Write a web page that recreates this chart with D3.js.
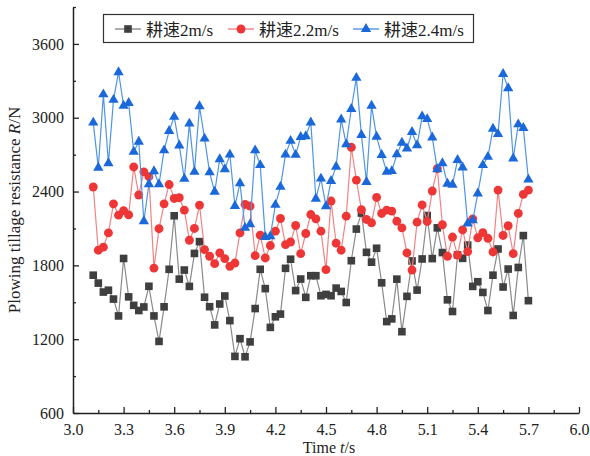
<!DOCTYPE html>
<html>
<head>
<meta charset="utf-8">
<script src="https://cdn.jsdelivr.net/npm/d3@7/dist/d3.min.js"></script>
<style>
  body { margin: 0; background: #fff; }
  svg text { font-family: "Liberation Serif", "Times New Roman", serif; fill: #222; }
  svg .cjk { font-family: "Noto Sans CJK SC", sans-serif; }
</style>
</head>
<body>
<div id="chart"></div>
<script>
// sample times (s)
const times = [3.12,3.15,3.18,3.21,3.24,3.27,3.30,3.33,3.36,3.39,3.42,3.45,3.48,3.51,3.54,3.57,3.60,3.63,3.66,3.69,
  3.72,3.75,3.78,3.81,3.84,3.87,3.90,3.93,3.96,3.99,4.02,4.05,4.08,4.11,4.14,4.17,4.20,4.23,4.26,4.29,
  4.32,4.35,4.38,4.41,4.44,4.47,4.50,4.53,4.56,4.59,4.62,4.65,4.68,4.71,4.74,4.77,4.80,4.83,4.86,4.89,
  4.92,4.95,4.98,5.01,5.04,5.07,5.10,5.13,5.16,5.19,5.22,5.25,5.28,5.31,5.34,5.37,5.40,5.43,5.46,5.49,
  5.52,5.55,5.58,5.61,5.64,5.67,5.70];

// tillage resistance (N)
const speed2 = [1720,1656,1583,1598,1526,1389,1856,1544,1475,1433,1462,1630,1389,1182,1463,1768,2203,1688,1762,1629,
  1897,1993,1541,1464,1316,1486,1551,1351,1060,1204,1057,1178,1449,1768,1611,1296,1382,1404,1776,1850,
  1595,1689,1540,1716,1716,1553,1564,1553,1615,1588,1498,1838,2095,2225,1906,1826,1939,1658,1343,1365,
  1688,1261,1548,1836,1599,1852,2205,1855,2105,1904,1520,1425,1885,1857,1965,1629,1667,1580,1433,1720,
  1933,1624,1770,1393,1783,2042,1513];

const speed22 = [2437,1923,1948,2064,2300,2208,2245,2210,2600,2372,2560,2521,1778,2098,2300,2457,2344,2350,2249,2004,
  2100,2290,1928,1874,1814,1901,1855,1792,1819,2064,2295,2282,1879,2045,1860,1961,2078,2181,1969,1990,
  2124,1895,2059,2213,2178,2078,1765,2323,1980,1923,2200,2760,2493,2252,2173,2146,2352,2222,2249,2241,
  2159,2105,1901,1762,2151,2291,2157,2404,2587,2130,1874,2030,1883,2088,1912,2178,2024,2066,2020,1909,
  2412,2043,2122,1895,2222,2377,2412];

const speed24 = [2960,2594,3190,2630,3145,3370,3098,3120,2723,2805,2158,2459,2565,2459,2735,2892,3007,2774,2503,2952,
  2560,3093,2830,2556,2398,2662,2581,2700,2282,2468,2105,2134,2735,2615,2030,2037,2292,2438,2700,2812,
  2698,2844,2850,2962,2342,2505,2280,2486,2602,2986,2784,3071,3324,2859,2478,3098,2845,2697,2560,2566,
  2702,2796,2750,2884,2777,3011,2989,2840,2581,2630,2464,2456,2656,2595,2141,2166,2384,2615,2682,2910,
  2867,3355,3240,2668,2946,2916,2497];

const seriesNames = ["耕速2m/s", "耕速2.2m/s", "耕速2.4m/s"];
const xTicks = [3.0,3.3,3.6,3.9,4.2,4.5,4.8,5.1,5.4,5.7,6.0];
const yTicks = [600,1200,1800,2400,3000,3600];

const W = 590, H = 456;
const margin = {top: 7, right: 11, bottom: 43, left: 73};
const width = W - margin.left - margin.right,
      height = H - margin.top - margin.bottom;

const svg = d3.select("#chart").append("svg")
  .attr("width", W).attr("height", H);
const g = svg.append("g")
  .attr("transform", "translate(" + margin.left + "," + margin.top + ")");

const x = d3.scaleLinear().domain([3.0, 6.0]).range([0, width]);
const y = d3.scaleLinear().domain([600, 3900]).range([height, 0]);

// minor ticks
const xMinor = xTicks.slice(0, -1).map(d => +(d + 0.15).toFixed(2));
const yMinor = yTicks.map(d => d + 300);

g.append("g").attr("transform", "translate(0," + height + ")")
  .call(d3.axisBottom(x).tickValues(xMinor).tickSize(-3).tickFormat(""))
  .call(a => a.select(".domain").remove());
g.append("g")
  .call(d3.axisLeft(y).tickValues(yMinor).tickSize(-3).tickFormat(""))
  .call(a => a.select(".domain").remove());

const xAxis = g.append("g").attr("transform", "translate(0," + height + ")")
  .call(d3.axisBottom(x).tickValues(xTicks).tickSize(-6).tickSizeOuter(0).tickPadding(10.5)
    .tickFormat(d3.format(".1f")));
const yAxis = g.append("g")
  .call(d3.axisLeft(y).tickValues(yTicks).tickSize(-6).tickSizeOuter(0).tickPadding(9)
    .tickFormat(d3.format("d")));

[xAxis, yAxis].forEach(a => {
  a.selectAll("text").style("font-size", "16px").attr("fill", "#222")
    .style("font-family", "'Liberation Serif', 'Times New Roman', serif");
});
svg.selectAll(".tick line").attr("stroke", "#222").attr("stroke-width", 1.3);
svg.selectAll(".domain").attr("stroke", "#222").attr("stroke-width", 1.5);

// series
const series = [
  {name: seriesNames[0], values: speed2, line: "#8a8a8a", fill: "#3f3f3f", sym: d3.symbolSquare, size: 58},
  {name: seriesNames[1], values: speed22, line: "#f28383", fill: "#ee3636", sym: d3.symbolCircle, size: 62},
  {name: seriesNames[2], values: speed24, line: "#4f95e6", fill: "#1a68da", sym: d3.symbolTriangle, size: 46}
];

const line = d3.line().x(d => x(d[0])).y(d => y(d[1]));

series.forEach(s => {
  const pts = times.map((t, i) => [t, s.values[i]]);
  g.append("path").datum(pts)
    .attr("fill", "none").attr("stroke", s.line).attr("stroke-width", 1.2)
    .attr("d", line);
  g.selectAll(null).data(pts).enter().append("path")
    .attr("transform", d => "translate(" + x(d[0]) + "," + y(d[1]) + ")")
    .attr("d", d3.symbol().type(s.sym).size(s.size))
    .attr("fill", s.fill);
});

// legend
const leg = svg.append("g");
leg.append("rect").attr("x", 103.5).attr("y", 14.5).attr("width", 370).attr("height", 28)
  .attr("fill", "#fff").attr("stroke", "#333").attr("stroke-width", 1.2);
const legX = [115, 228, 353];
series.forEach((s, i) => {
  const lx = legX[i];
  leg.append("line").attr("x1", lx).attr("x2", lx + 26).attr("y1", 29).attr("y2", 29)
    .attr("stroke", s.line).attr("stroke-width", 1.4);
  leg.append("path").attr("transform", "translate(" + (lx + 13) + ",29)")
    .attr("d", d3.symbol().type(s.sym).size(s.size)).attr("fill", s.fill);
  const t = leg.append("text").attr("x", lx + 31).attr("y", 35.5).style("font-size", "17px");
  t.append("tspan").attr("class", "cjk").text(s.name.slice(0, 2));
  t.append("tspan").text(s.name.slice(2));
});

// axis titles
svg.append("text").attr("x", 329).attr("y", 453).attr("text-anchor", "middle")
  .style("font-size", "16px")
  .call(t => {
    t.append("tspan").text("Time ");
    t.append("tspan").attr("font-style", "italic").text("t");
    t.append("tspan").text("/s");
  });
svg.append("text").attr("transform", "translate(19.5," + (margin.top + height / 2) + ") rotate(-90)")
  .attr("text-anchor", "middle").style("font-size", "17px")
  .call(t => {
    t.append("tspan").text("Plowing tillage resistance ");
    t.append("tspan").attr("font-style", "italic").text("R");
    t.append("tspan").text("/N");
  });
</script>
</body>
</html>
